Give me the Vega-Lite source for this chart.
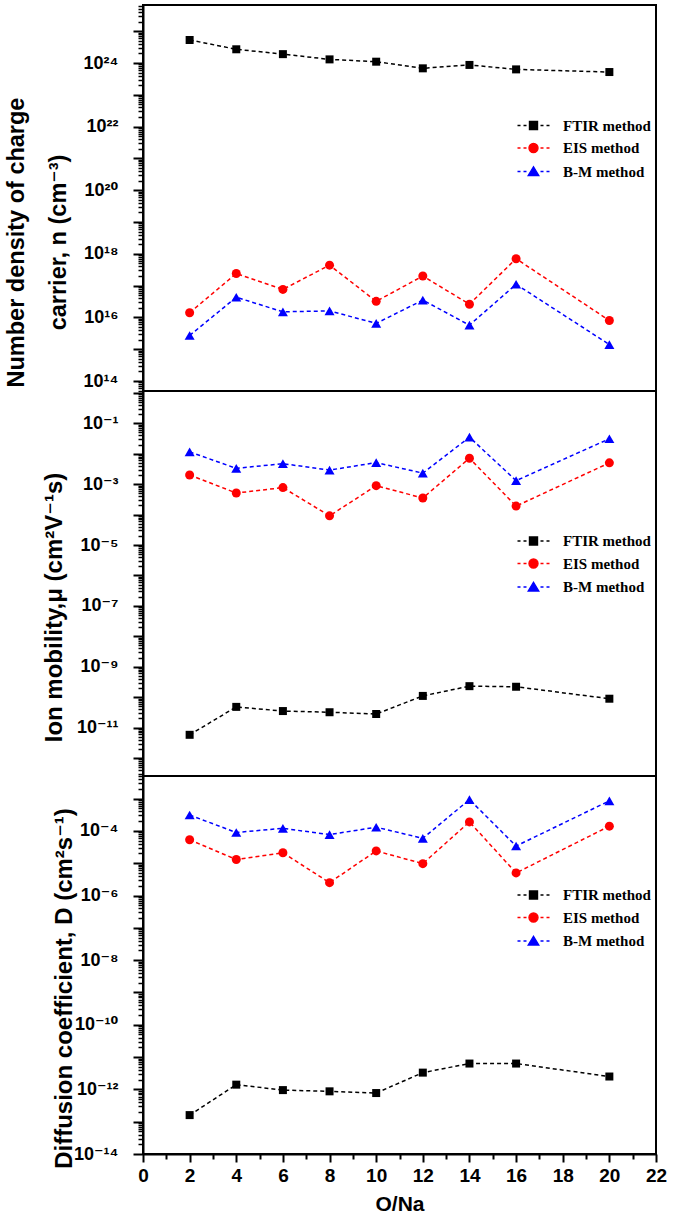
{
  "$schema": "https://vega.github.io/schema/vega-lite/v6.json",
  "autosize": {"type": "pad"},
  "padding": {"left": 2, "top": -4, "right": 0, "bottom": 0},
  "background": "white",
  "data": {"values": [
    {"panel": "n", "method": "FTIR method", "ratio": 2, "value": 5.3e24},
    {"panel": "n", "method": "FTIR method", "ratio": 4, "value": 2.7e24},
    {"panel": "n", "method": "FTIR method", "ratio": 6, "value": 1.9e24},
    {"panel": "n", "method": "FTIR method", "ratio": 8, "value": 1.3e24},
    {"panel": "n", "method": "FTIR method", "ratio": 10, "value": 1.1e24},
    {"panel": "n", "method": "FTIR method", "ratio": 12, "value": 6.8e23},
    {"panel": "n", "method": "FTIR method", "ratio": 14, "value": 8.7e23},
    {"panel": "n", "method": "FTIR method", "ratio": 16, "value": 6.3e23},
    {"panel": "n", "method": "FTIR method", "ratio": 20, "value": 5.2e23},
    {"panel": "n", "method": "EIS method", "ratio": 2, "value": 1.4e16},
    {"panel": "n", "method": "EIS method", "ratio": 4, "value": 2.4e17},
    {"panel": "n", "method": "EIS method", "ratio": 6, "value": 7.6e16},
    {"panel": "n", "method": "EIS method", "ratio": 8, "value": 4.4e17},
    {"panel": "n", "method": "EIS method", "ratio": 10, "value": 3.2e16},
    {"panel": "n", "method": "EIS method", "ratio": 12, "value": 2.0e17},
    {"panel": "n", "method": "EIS method", "ratio": 14, "value": 2.6e16},
    {"panel": "n", "method": "EIS method", "ratio": 16, "value": 7.0e17},
    {"panel": "n", "method": "EIS method", "ratio": 20, "value": 8.0e15},
    {"panel": "n", "method": "B-M method", "ratio": 2, "value": 2.7e15},
    {"panel": "n", "method": "B-M method", "ratio": 4, "value": 4.3e16},
    {"panel": "n", "method": "B-M method", "ratio": 6, "value": 1.5e16},
    {"panel": "n", "method": "B-M method", "ratio": 8, "value": 1.6e16},
    {"panel": "n", "method": "B-M method", "ratio": 10, "value": 6.5e15},
    {"panel": "n", "method": "B-M method", "ratio": 12, "value": 3.5e16},
    {"panel": "n", "method": "B-M method", "ratio": 14, "value": 5.7e15},
    {"panel": "n", "method": "B-M method", "ratio": 16, "value": 1.1e17},
    {"panel": "n", "method": "B-M method", "ratio": 20, "value": 1.4e15},
    {"panel": "mu", "method": "FTIR method", "ratio": 2, "value": 5.8e-12},
    {"panel": "mu", "method": "FTIR method", "ratio": 4, "value": 4.8e-11},
    {"panel": "mu", "method": "FTIR method", "ratio": 6, "value": 3.5e-11},
    {"panel": "mu", "method": "FTIR method", "ratio": 8, "value": 3.2e-11},
    {"panel": "mu", "method": "FTIR method", "ratio": 10, "value": 2.8e-11},
    {"panel": "mu", "method": "FTIR method", "ratio": 12, "value": 1.1e-10},
    {"panel": "mu", "method": "FTIR method", "ratio": 14, "value": 2.3e-10},
    {"panel": "mu", "method": "FTIR method", "ratio": 16, "value": 2.2e-10},
    {"panel": "mu", "method": "FTIR method", "ratio": 20, "value": 8.9e-11},
    {"panel": "mu", "method": "EIS method", "ratio": 2, "value": 2.0e-3},
    {"panel": "mu", "method": "EIS method", "ratio": 4, "value": 5.1e-4},
    {"panel": "mu", "method": "EIS method", "ratio": 6, "value": 7.7e-4},
    {"panel": "mu", "method": "EIS method", "ratio": 8, "value": 9.1e-5},
    {"panel": "mu", "method": "EIS method", "ratio": 10, "value": 8.9e-4},
    {"panel": "mu", "method": "EIS method", "ratio": 12, "value": 3.5e-4},
    {"panel": "mu", "method": "EIS method", "ratio": 14, "value": 7.1e-3},
    {"panel": "mu", "method": "EIS method", "ratio": 16, "value": 1.9e-4},
    {"panel": "mu", "method": "EIS method", "ratio": 20, "value": 5.0e-3},
    {"panel": "mu", "method": "B-M method", "ratio": 2, "value": 1.15e-2},
    {"panel": "mu", "method": "B-M method", "ratio": 4, "value": 3.3e-3},
    {"panel": "mu", "method": "B-M method", "ratio": 6, "value": 4.7e-3},
    {"panel": "mu", "method": "B-M method", "ratio": 8, "value": 2.9e-3},
    {"panel": "mu", "method": "B-M method", "ratio": 10, "value": 5.1e-3},
    {"panel": "mu", "method": "B-M method", "ratio": 12, "value": 2.3e-3},
    {"panel": "mu", "method": "B-M method", "ratio": 14, "value": 3.5e-2},
    {"panel": "mu", "method": "B-M method", "ratio": 16, "value": 1.3e-3},
    {"panel": "mu", "method": "B-M method", "ratio": 20, "value": 3.1e-2},
    {"panel": "D", "method": "FTIR method", "ratio": 2, "value": 1.6e-13},
    {"panel": "D", "method": "FTIR method", "ratio": 4, "value": 1.4e-12},
    {"panel": "D", "method": "FTIR method", "ratio": 6, "value": 9.5e-13},
    {"panel": "D", "method": "FTIR method", "ratio": 8, "value": 8.7e-13},
    {"panel": "D", "method": "FTIR method", "ratio": 10, "value": 7.7e-13},
    {"panel": "D", "method": "FTIR method", "ratio": 12, "value": 3.3e-12},
    {"panel": "D", "method": "FTIR method", "ratio": 14, "value": 6.3e-12},
    {"panel": "D", "method": "FTIR method", "ratio": 16, "value": 6.3e-12},
    {"panel": "D", "method": "FTIR method", "ratio": 20, "value": 2.5e-12},
    {"panel": "D", "method": "EIS method", "ratio": 2, "value": 5.3e-5},
    {"panel": "D", "method": "EIS method", "ratio": 4, "value": 1.3e-5},
    {"panel": "D", "method": "EIS method", "ratio": 6, "value": 2.1e-5},
    {"panel": "D", "method": "EIS method", "ratio": 8, "value": 2.5e-6},
    {"panel": "D", "method": "EIS method", "ratio": 10, "value": 2.4e-5},
    {"panel": "D", "method": "EIS method", "ratio": 12, "value": 9.7e-6},
    {"panel": "D", "method": "EIS method", "ratio": 14, "value": 1.9e-4},
    {"panel": "D", "method": "EIS method", "ratio": 16, "value": 5.0e-6},
    {"panel": "D", "method": "EIS method", "ratio": 20, "value": 1.4e-4},
    {"panel": "D", "method": "B-M method", "ratio": 2, "value": 3.1e-4},
    {"panel": "D", "method": "B-M method", "ratio": 4, "value": 8.9e-5},
    {"panel": "D", "method": "B-M method", "ratio": 6, "value": 1.2e-4},
    {"panel": "D", "method": "B-M method", "ratio": 8, "value": 7.7e-5},
    {"panel": "D", "method": "B-M method", "ratio": 10, "value": 1.3e-4},
    {"panel": "D", "method": "B-M method", "ratio": 12, "value": 5.9e-5},
    {"panel": "D", "method": "B-M method", "ratio": 14, "value": 9.3e-4},
    {"panel": "D", "method": "B-M method", "ratio": 16, "value": 3.4e-5},
    {"panel": "D", "method": "B-M method", "ratio": 20, "value": 8.5e-4}
  ]},
  "spacing": 0,
  "bounds": "flush",
  "resolve": {"legend": {"fill": "independent", "stroke": "independent", "shape": "independent"}},
  "vconcat": [
    {
      "width": 513, "height": 386,
      "transform": [{"filter": "datum.panel == 'n'"}],
      "encoding": {
        "x": {"field": "ratio", "type": "quantitative", "scale": {"domain": [0, 22], "nice": false, "zero": false}, "axis": null},
        "y": {"field": "value", "type": "quantitative", "scale": {"type": "log", "domain": [4.85e13, 6.67e25], "nice": false},
          "axis": {
            "title": ["Number density of charge", "carrier, n (cm⁻³)"],
            "titleFontSize": 23.5, "titleAngle": -90, "titleAlign": "center", "titleBaseline": "alphabetic",
            "titleX": -120, "titleY": 237, "titleLineHeight": 42,
            "tickCount": 40, "labelOverlap": false, "labelFlush": false, "labelBound": false,
            "labelFontSize": 18, "labelPadding": 15,
            "labelExpr": "abs(log(datum.value)/LN10-round(log(datum.value)/LN10))>0.01?'':round(log(datum.value)/LN10)==24?'10²⁴':round(log(datum.value)/LN10)==22?'10²²':round(log(datum.value)/LN10)==20?'10²⁰':round(log(datum.value)/LN10)==18?'10¹⁸':round(log(datum.value)/LN10)==16?'10¹⁶':round(log(datum.value)/LN10)==14?'10¹⁴':''",
            "tickSize": {"condition": {"test": "abs(log(datum.value)/LN10-round(log(datum.value)/LN10))<0.01", "value": 10}, "value": 5},
            "tickWidth": {"condition": {"test": "abs(log(datum.value)/LN10-round(log(datum.value)/LN10))<0.01", "value": 2}, "value": 1.5}
          }}
      },
      "layer": [
        {"mark": {"type": "line", "strokeDash": [4, 3], "strokeWidth": 1.5},
         "encoding": {"color": {"field": "method", "type": "nominal", "scale": {"domain": ["FTIR method", "EIS method", "B-M method"], "range": ["#000000", "#ff0000", "#0000ff"]}, "legend": null}}},
        {"transform": [{"filter": "datum.method == 'FTIR method'"}], "mark": {"type": "point", "shape": "square", "filled": true, "color": "#000000", "size": 64, "opacity": 1}},
        {"transform": [{"filter": "datum.method == 'EIS method'"}], "mark": {"type": "point", "shape": "circle", "filled": true, "color": "#ff0000", "size": 81, "opacity": 1}},
        {"transform": [{"filter": "datum.method == 'B-M method'"}], "mark": {"type": "point", "shape": "triangle-up", "filled": true, "color": "#0000ff", "size": 100, "opacity": 1}},
        {"transform": [{"filter": "datum.ratio < 0"}],
         "mark": {"type": "point", "filled": true, "opacity": 1, "strokeWidth": 1.4},
         "encoding": {
           "fill": {"field": "method", "type": "nominal", "scale": {"domain": ["FTIR method", "EIS method", "B-M method"], "range": ["#000000", "#ff0000", "#0000ff"]},
             "legend": {"orient": "none", "legendX": 383, "legendY": 113, "title": null, "padding": 0, "labelFont": "Liberation Serif", "labelFontWeight": "bold", "labelFontSize": 15, "labelColor": "#000000", "labelOffset": 22, "symbolSize": 100, "rowPadding": 6.5, "symbolStrokeWidth": 1.4, "symbolOpacity": 1}},
           "stroke": {"field": "method", "type": "nominal", "scale": {"domain": ["FTIR method", "EIS method", "B-M method"], "range": ["#000000", "#ff0000", "#0000ff"]},
             "legend": {"orient": "none", "legendX": 383, "legendY": 113, "title": null, "padding": 0, "labelFont": "Liberation Serif", "labelFontWeight": "bold", "labelFontSize": 15, "labelColor": "#000000", "labelOffset": 22, "symbolSize": 100, "rowPadding": 6.5, "symbolStrokeWidth": 1.4, "symbolOpacity": 1}},
           "shape": {"field": "method", "type": "nominal", "scale": {"domain": ["FTIR method", "EIS method", "B-M method"], "range": ["M-3.2,0H-2.6M-2,0H-1.4M-0.8,-0.8H0.8V0.8H-0.8ZM1.4,0H2M2.6,0H3.2", "M-3.2,0H-2.6M-2,0H-1.4M-0.9,0A0.9,0.9,0,1,0,0.9,0A0.9,0.9,0,1,0,-0.9,0ZM1.4,0H2M2.6,0H3.2", "M-3.2,0H-2.6M-2,0H-1.4M0,-0.95L1.05,0.8L-1.05,0.8ZM1.4,0H2M2.6,0H3.2"]},
             "legend": {"orient": "none", "legendX": 383, "legendY": 113, "title": null, "padding": 0, "labelFont": "Liberation Serif", "labelFontWeight": "bold", "labelFontSize": 15, "labelColor": "#000000", "labelOffset": 22, "symbolSize": 100, "rowPadding": 6.5, "symbolStrokeWidth": 1.4, "symbolOpacity": 1}}
         }}
      ]
    },
    {
      "width": 513, "height": 385,
      "transform": [{"filter": "datum.panel == 'mu'"}],
      "encoding": {
        "x": {"field": "ratio", "type": "quantitative", "scale": {"domain": [0, 22], "nice": false, "zero": false}, "axis": null},
        "y": {"field": "value", "type": "quantitative", "scale": {"type": "log", "domain": [2.57e-13, 1.15], "nice": false},
          "axis": {
            "title": "Ion mobility,μ (cm²V⁻¹s)",
            "titleFontSize": 24, "titleAngle": -90, "titleAlign": "center", "titleBaseline": "alphabetic",
            "titleX": -82, "titleY": 216,
            "tickCount": 40, "labelOverlap": false, "labelFlush": false, "labelBound": false,
            "labelFontSize": 18, "labelPadding": 15,
            "labelExpr": "abs(log(datum.value)/LN10-round(log(datum.value)/LN10))>0.01?'':round(log(datum.value)/LN10)==-1?'10⁻¹':round(log(datum.value)/LN10)==-3?'10⁻³':round(log(datum.value)/LN10)==-5?'10⁻⁵':round(log(datum.value)/LN10)==-7?'10⁻⁷':round(log(datum.value)/LN10)==-9?'10⁻⁹':round(log(datum.value)/LN10)==-11?'10⁻¹¹':''",
            "tickSize": {"condition": {"test": "abs(log(datum.value)/LN10-round(log(datum.value)/LN10))<0.01", "value": 10}, "value": 5},
            "tickWidth": {"condition": {"test": "abs(log(datum.value)/LN10-round(log(datum.value)/LN10))<0.01", "value": 2}, "value": 1.5}
          }}
      },
      "layer": [
        {"mark": {"type": "line", "strokeDash": [4, 3], "strokeWidth": 1.5},
         "encoding": {"color": {"field": "method", "type": "nominal", "scale": {"domain": ["FTIR method", "EIS method", "B-M method"], "range": ["#000000", "#ff0000", "#0000ff"]}, "legend": null}}},
        {"transform": [{"filter": "datum.method == 'FTIR method'"}], "mark": {"type": "point", "shape": "square", "filled": true, "color": "#000000", "size": 64, "opacity": 1}},
        {"transform": [{"filter": "datum.method == 'EIS method'"}], "mark": {"type": "point", "shape": "circle", "filled": true, "color": "#ff0000", "size": 81, "opacity": 1}},
        {"transform": [{"filter": "datum.method == 'B-M method'"}], "mark": {"type": "point", "shape": "triangle-up", "filled": true, "color": "#0000ff", "size": 100, "opacity": 1}},
        {"transform": [{"filter": "datum.ratio < 0"}],
         "mark": {"type": "point", "filled": true, "opacity": 1, "strokeWidth": 1.4},
         "encoding": {
           "fill": {"field": "method", "type": "nominal", "scale": {"domain": ["FTIR method", "EIS method", "B-M method"], "range": ["#000000", "#ff0000", "#0000ff"]},
             "legend": {"orient": "none", "legendX": 383, "legendY": 142.5, "title": null, "padding": 0, "labelFont": "Liberation Serif", "labelFontWeight": "bold", "labelFontSize": 15, "labelColor": "#000000", "labelOffset": 22, "symbolSize": 100, "rowPadding": 6.5, "symbolStrokeWidth": 1.4, "symbolOpacity": 1}},
           "stroke": {"field": "method", "type": "nominal", "scale": {"domain": ["FTIR method", "EIS method", "B-M method"], "range": ["#000000", "#ff0000", "#0000ff"]},
             "legend": {"orient": "none", "legendX": 383, "legendY": 142.5, "title": null, "padding": 0, "labelFont": "Liberation Serif", "labelFontWeight": "bold", "labelFontSize": 15, "labelColor": "#000000", "labelOffset": 22, "symbolSize": 100, "rowPadding": 6.5, "symbolStrokeWidth": 1.4, "symbolOpacity": 1}},
           "shape": {"field": "method", "type": "nominal", "scale": {"domain": ["FTIR method", "EIS method", "B-M method"], "range": ["M-3.2,0H-2.6M-2,0H-1.4M-0.8,-0.8H0.8V0.8H-0.8ZM1.4,0H2M2.6,0H3.2", "M-3.2,0H-2.6M-2,0H-1.4M-0.9,0A0.9,0.9,0,1,0,0.9,0A0.9,0.9,0,1,0,-0.9,0ZM1.4,0H2M2.6,0H3.2", "M-3.2,0H-2.6M-2,0H-1.4M0,-0.95L1.05,0.8L-1.05,0.8ZM1.4,0H2M2.6,0H3.2"]},
             "legend": {"orient": "none", "legendX": 383, "legendY": 142.5, "title": null, "padding": 0, "labelFont": "Liberation Serif", "labelFontWeight": "bold", "labelFontSize": 15, "labelColor": "#000000", "labelOffset": 22, "symbolSize": 100, "rowPadding": 6.5, "symbolStrokeWidth": 1.4, "symbolOpacity": 1}}
         }}
      ]
    },
    {
      "width": 513, "height": 378,
      "transform": [{"filter": "datum.panel == 'D'"}],
      "encoding": {
        "x": {"field": "ratio", "type": "quantitative", "scale": {"domain": [0, 22], "nice": false, "zero": false},
          "axis": {"title": "O/Na", "titleFontSize": 21, "titlePadding": 8, "tickCount": 22, "labelFontSize": 19, "labelPadding": 4, "labelFlush": false, "labelOverlap": false,
            "labelExpr": "datum.value % 2 == 0 ? datum.label : ''",
            "tickSize": {"condition": {"test": "datum.value % 2 == 0", "value": 8}, "value": 5}, "tickWidth": 2}},
        "y": {"field": "value", "type": "quantitative", "scale": {"type": "log", "domain": [1e-14, 5.0e-3], "nice": false},
          "axis": {
            "title": "Diffusion coefficient, D (cm²s⁻¹)",
            "titleFontSize": 24, "titleAngle": -90, "titleAlign": "center", "titleBaseline": "alphabetic",
            "titleX": -72, "titleY": 212,
            "tickCount": 40, "labelOverlap": false, "labelFlush": false, "labelBound": false,
            "labelFontSize": 18, "labelPadding": 15,
            "labelExpr": "abs(log(datum.value)/LN10-round(log(datum.value)/LN10))>0.01?'':round(log(datum.value)/LN10)==-4?'10⁻⁴':round(log(datum.value)/LN10)==-6?'10⁻⁶':round(log(datum.value)/LN10)==-8?'10⁻⁸':round(log(datum.value)/LN10)==-10?'10⁻¹⁰':round(log(datum.value)/LN10)==-12?'10⁻¹²':round(log(datum.value)/LN10)==-14?'10⁻¹⁴':''",
            "tickSize": {"condition": {"test": "abs(log(datum.value)/LN10-round(log(datum.value)/LN10))<0.01", "value": 10}, "value": 5},
            "tickWidth": {"condition": {"test": "abs(log(datum.value)/LN10-round(log(datum.value)/LN10))<0.01", "value": 2}, "value": 1.5}
          }}
      },
      "layer": [
        {"mark": {"type": "line", "strokeDash": [4, 3], "strokeWidth": 1.5},
         "encoding": {"color": {"field": "method", "type": "nominal", "scale": {"domain": ["FTIR method", "EIS method", "B-M method"], "range": ["#000000", "#ff0000", "#0000ff"]}, "legend": null}}},
        {"transform": [{"filter": "datum.method == 'FTIR method'"}], "mark": {"type": "point", "shape": "square", "filled": true, "color": "#000000", "size": 64, "opacity": 1}},
        {"transform": [{"filter": "datum.method == 'EIS method'"}], "mark": {"type": "point", "shape": "circle", "filled": true, "color": "#ff0000", "size": 81, "opacity": 1}},
        {"transform": [{"filter": "datum.method == 'B-M method'"}], "mark": {"type": "point", "shape": "triangle-up", "filled": true, "color": "#0000ff", "size": 100, "opacity": 1}},
        {"transform": [{"filter": "datum.ratio < 0"}],
         "mark": {"type": "point", "filled": true, "opacity": 1, "strokeWidth": 1.4},
         "encoding": {
           "fill": {"field": "method", "type": "nominal", "scale": {"domain": ["FTIR method", "EIS method", "B-M method"], "range": ["#000000", "#ff0000", "#0000ff"]},
             "legend": {"orient": "none", "legendX": 383, "legendY": 111.5, "title": null, "padding": 0, "labelFont": "Liberation Serif", "labelFontWeight": "bold", "labelFontSize": 15, "labelColor": "#000000", "labelOffset": 22, "symbolSize": 100, "rowPadding": 6.5, "symbolStrokeWidth": 1.4, "symbolOpacity": 1}},
           "stroke": {"field": "method", "type": "nominal", "scale": {"domain": ["FTIR method", "EIS method", "B-M method"], "range": ["#000000", "#ff0000", "#0000ff"]},
             "legend": {"orient": "none", "legendX": 383, "legendY": 111.5, "title": null, "padding": 0, "labelFont": "Liberation Serif", "labelFontWeight": "bold", "labelFontSize": 15, "labelColor": "#000000", "labelOffset": 22, "symbolSize": 100, "rowPadding": 6.5, "symbolStrokeWidth": 1.4, "symbolOpacity": 1}},
           "shape": {"field": "method", "type": "nominal", "scale": {"domain": ["FTIR method", "EIS method", "B-M method"], "range": ["M-3.2,0H-2.6M-2,0H-1.4M-0.8,-0.8H0.8V0.8H-0.8ZM1.4,0H2M2.6,0H3.2", "M-3.2,0H-2.6M-2,0H-1.4M-0.9,0A0.9,0.9,0,1,0,0.9,0A0.9,0.9,0,1,0,-0.9,0ZM1.4,0H2M2.6,0H3.2", "M-3.2,0H-2.6M-2,0H-1.4M0,-0.95L1.05,0.8L-1.05,0.8ZM1.4,0H2M2.6,0H3.2"]},
             "legend": {"orient": "none", "legendX": 383, "legendY": 111.5, "title": null, "padding": 0, "labelFont": "Liberation Serif", "labelFontWeight": "bold", "labelFontSize": 15, "labelColor": "#000000", "labelOffset": 22, "symbolSize": 100, "rowPadding": 6.5, "symbolStrokeWidth": 1.4, "symbolOpacity": 1}}
         }}
      ]
    }
  ],
  "config": {
    "view": {"stroke": "#000000", "strokeWidth": 2},
    "axis": {"grid": false, "domainColor": "#000000", "domainWidth": 2, "tickColor": "#000000", "labelColor": "#000000", "titleColor": "#000000",
      "labelFont": "Liberation Sans, DejaVu Sans", "labelFontWeight": "bold", "titleFont": "Liberation Sans, DejaVu Sans", "titleFontWeight": "bold"}
  }
}
